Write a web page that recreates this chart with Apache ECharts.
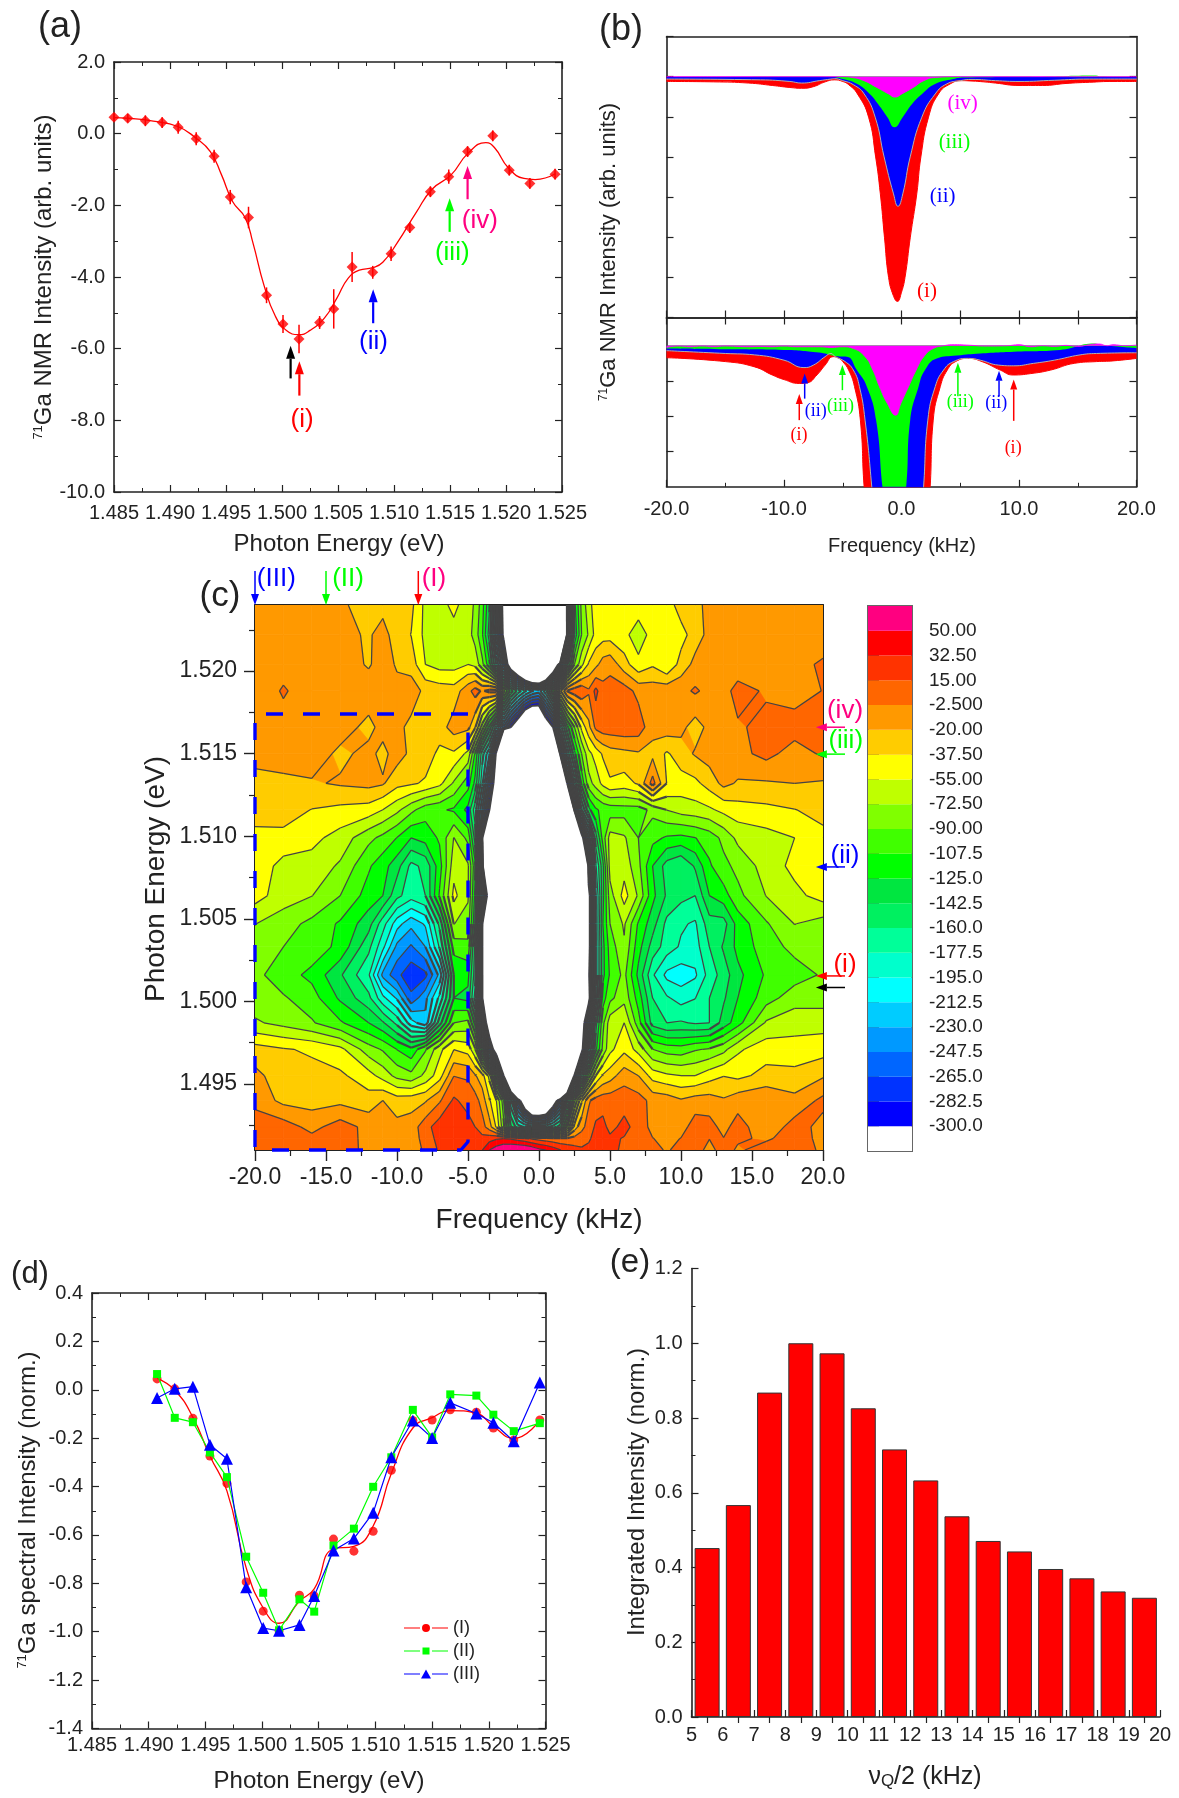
<!DOCTYPE html>
<html>
<head>
<meta charset="utf-8">
<title>71Ga NMR</title>
<script src="https://cdn.jsdelivr.net/npm/echarts@6/dist/echarts.min.js"></script>
<style>
  html, body { margin: 0; background: #fff; }
  #chart { width: 1179px; height: 1798px; }
</style>
</head>
<body>
<div id="chart"></div>
<script>
// (a) integrated NMR intensity vs photon energy
const aEnergy = [1.4850,1.48623,1.4878,1.4893,1.49073,1.49234,1.49394,1.49538,1.49701,1.49862,1.50009,1.50152,1.50336,1.50462,1.50626,1.5081,1.50974,1.51141,1.51325,1.51489,1.51657,1.51882,1.52029,1.52213,1.52438];
const aIntensity = [0.46,0.43,0.36,0.31,0.18,-0.14,-0.63,-1.77,-2.34,-4.51,-5.31,-5.73,-5.27,-4.89,-3.72,-3.87,-3.35,-2.62,-1.62,-1.2,-0.5,-0.06,-1.02,-1.39,-1.13];
const aError = [0.1,0.12,0.15,0.15,0.18,0.18,0.18,0.2,0.3,0.22,0.25,0.4,0.18,0.55,0.42,0.18,0.2,0.15,0.15,0.2,0.15,0.15,0.15,0.15,0.15];
const aFitEnergy = [1.4850,1.4862,1.4885,1.4907,1.4923,1.4936,1.4946,1.4956,1.4967,1.4974,1.4984,1.4994,1.5004,1.5015,1.5025,1.5038,1.5049,1.5059,1.5069,1.5081,1.5090,1.5103,1.5120,1.5134,1.5151,1.5166,1.5182,1.5190,1.5202,1.5216,1.5226,1.5244];
const aFitIntensity = [0.45,0.43,0.35,0.2,-0.12,-0.5,-1.15,-1.9,-2.34,-3.04,-4.24,-5.09,-5.49,-5.61,-5.49,-5.14,-4.59,-4.04,-3.81,-3.74,-3.59,-3.04,-2.19,-1.55,-1.15,-0.55,-0.25,-0.4,-0.95,-1.25,-1.28,-1.12];

// (b) spectra, upper panel
const bTopRed = [[-20,-.12],[-16,-.13],[-13,-.16],[-11,-.22],[-9.5,-.27],[-8.5,-.29],[-7.5,-.25],[-6.5,-.13],[-5.7,-.08],[-5,-.12],[-4.5,-.2],[-3.75,-.43],[-2.8,-1.01],[-2.2,-2],[-1.8,-2.92],[-1.45,-4],[-1.1,-5],[-.7,-5.45],[-.35,-5.6],[0,-5.37],[.3,-5],[.75,-4],[1.3,-2.92],[1.65,-2],[2.3,-1.01],[3.15,-.43],[4.15,-.18],[5.15,-.1],[6,-.11],[7,-.13],[8,-.16],[10,-.22],[12,-.22],[14,-.17],[16,-.14],[18,-.12],[20,-.12]];
const bTopBlue = [[-20,-.06],[-12,-.08],[-9.5,-.12],[-8.5,-.16],[-7,-.1],[-6,-.06],[-5.7,-.05],[-5,-.1],[-4.1,-.2],[-3.18,-.43],[-2.24,-1.01],[-1.48,-2],[-.68,-2.92],[-.3,-3.23],[.11,-2.92],[.74,-2],[1.73,-1.01],[2.87,-.43],[3.86,-.18],[5,-.1],[6,-.07],[8,-.1],[10,-.12],[13,-.09],[16,-.06],[20,-.06]];
const bTopGreen = [[-20,0],[-6,-.01],[-5,-.06],[-3.8,-.18],[-2.7,-.43],[-2,-.68],[-1.2,-1.01],[-.6,-1.26],[.1,-1.01],[.9,-.68],[1.75,-.43],[2.9,-.18],[4.4,-.06],[5.3,-.02],[12,0],[16.4,.03],[17,.01],[20,0]];
const bTopMagenta = [[-20,0],[-10,0],[-5,0],[-4.2,-.02],[-3.2,-.1],[-2.1,-.27],[-1.1,-.43],[-.55,-.51],[.03,-.43],[1,-.27],[1.9,-.1],[2.9,-.02],[5,0],[20,0]];

// (b) spectra, lower panel (magnified)
const bLowRed = [[-20,-.34],[-15,-.45],[-12.5,-.6],[-11,-.83],[-10,-.96],[-8.7,-1.07],[-8,-1.05],[-7.2,-.83],[-6.5,-.55],[-5.8,-.31],[-5.3,-.36],[-5,-.45],[-4.5,-.69],[-4,-1.16],[-3.5,-2.11],[-3.18,-4],[-2,-9],[-.35,-14],[1.5,-9],[2.44,-4],[2.7,-2.11],[3.3,-1.16],[3.9,-.69],[4.6,-.45],[5.7,-.36],[6.85,-.45],[8.4,-.69],[9.5,-.83],[11,-.79],[12.7,-.69],[14.7,-.5],[16.6,-.45],[18,-.43],[20,-.36]];
const bLowBlue = [[-20,-.14],[-15,-.22],[-12.5,-.26],[-10,-.41],[-8.3,-.62],[-7.5,-.55],[-6.5,-.31],[-6,-.22],[-5.65,-.31],[-4.8,-.45],[-4.1,-.69],[-3.58,-1.16],[-3.1,-2.11],[-2.53,-4],[-1.5,-8],[-.35,-11],[1,-8],[1.88,-4],[2.24,-2.11],[2.87,-1.16],[3.58,-.69],[4.43,-.45],[5.7,-.36],[6.7,-.41],[8.27,-.55],[9.55,-.57],[11.25,-.5],[13,-.41],[15.2,-.26],[16.6,-.22],[20,-.2]];
const bLowGreen = [[-20,-.08],[-15,-.1],[-10,-.12],[-7,-.19],[-6.5,-.22],[-5.5,-.3],[-4.66,-.31],[-3.8,-.69],[-2.95,-1.16],[-2.16,-2.11],[-1.62,-4],[-.6,-7],[.4,-4],[.74,-2.11],[1.45,-1.16],[2,-.69],[3,-.36],[4.7,-.28],[6.7,-.22],[9.55,-.17],[13.5,-.12],[16.4,.06],[17,.02],[20,-.07]];
const bLowMagenta = [[-20,-.05],[-19,-.01],[-18,-.03],[-17,-.01],[-16,-.03],[-15,-.01],[-14,-.02],[-13,-.03],[-12,-.02],[-11,-.03],[-10,-.01],[-9,-.03],[-8,-.03],[-7,-.03],[-6,-.05],[-5,-.03],[-4.1,-.08],[-3.1,-.31],[-2.44,-.69],[-1.88,-1.16],[-1.2,-1.64],[-.5,-1.97],[-.06,-1.64],[.6,-1.16],[1.25,-.69],[1.9,-.31],[2.7,-.08],[3.6,0],[4.5,.03],[6,.01],[7,-.01],[9,0],[10,.03],[11,-.03],[12,0],[13,-.02],[14,.01],[15,-.02],[16,.03],[16.8,.05],[17.5,0],[18,.03],[19,0],[20,.02]];

// (c) contour map: rows from low to high photon energy, one value per frequency
const cFrequency = [-20,-18,-16,-14,-12,-11,-10,-9,-8,-7,-6,-5,-4.5,-4,-3.5,-3,-2.5,-2,-1.5,-1,-.5,0,.5,1,1.5,2,2.5,3,3.5,4,4.5,5,6,7,8,9,10,11,12,13,14,16,18,20];
const cEnergy = [1.4910,1.4917,1.4924,1.4940,1.4955,1.4971,1.4987,1.5002,1.5016,1.5033,1.5047,1.5064,1.5082,1.5099,1.5116,1.5132,1.5150,1.5166,1.5188,1.5204,1.5222,1.5240];
const cValues = [
  [8,8,8,2,-5,-8,-5,-10,0,18,25,28, 30,32,50,60,68,70,72,70,65,55,50,42,33,28,22,18,20,25,26, 25,8,5,5,-5,5,5,-8,5,-5,5,5,-5],
  [8,8,2,5,-7,-9,-10,-11,4,22,22,25, 22,20,25,30,32,30,25,20,12,8,5,2,0,0,3,6,12,22,22, 18,14,6,-2,-8,-2,6,-2,-2,0,-5,5,-7],
  [8,6,-8,6,-8,-10,-15,-12,8,25,18,22, 15,5,-12,-40,-85,-140,-170,-180,-180,-180,-180,-170,-150,-90,-30,-8,5,18,20, 10,20,8,-8,-10,-10,6,4,-8,5,-15,5,-8],
  [-8,-25,-27,-25,-30,-20,-29,-27,-22,-5,18,8, 5,-10,-35,-55,-100,-190,-270,-360,-463,-470,-440,-340,-270,-170,-90,-40,-5,5,8, 8,8,5,-8,-10,-18,-12,-12,-18,-10,-5,-15,2],
  [-15,-30,-32,-34,-48,-62,-78,-85,-68,-45,-3,-5, -18,-30,-60,-140,-300,-500,-900,-900,-900,-900,-900,-900,-900,-600,-290,-170,-100,-55,-35, -28,-10,-20,-45,-52,-55,-55,-45,-38,-42,-32,-32,-22],
  [-30,-36,-40,-50,-82,-92,-108,-120,-92,-60,-38,-45, -70,-140,-250,-345,-900,-900,-900,-900,-900,-900,-900,-900,-900,-900,-900,-320,-200,-130,-85, -60,-42,-62,-90,-98,-100,-92,-88,-78,-58,-45,-48,-45],
  [-70,-78,-88,-105,-125,-140,-165,-205,-225,-150,-90,-85, -130,-230,-360,-900,-900,-900,-900,-900,-900,-900,-900,-900,-900,-900,-900,-340,-240,-150,-95, -62,-55,-100,-150,-160,-158,-162,-160,-135,-115,-70,-62,-62],
  [-82,-88,-100,-128,-155,-190,-215,-260,-235,-190,-125,-130, -185,-290,-900,-900,-900,-900,-900,-900,-900,-900,-900,-900,-900,-900,-900,-900,-320,-190,-115, -95,-78,-115,-160,-175,-185,-178,-160,-145,-125,-98,-80,-80],
  [-85,-100,-112,-140,-175,-235,-260,-278,-270,-225,-125,-120, -170,-290,-900,-900,-900,-900,-900,-900,-900,-900,-900,-900,-900,-900,-900,-900,-310,-200,-130, -105,-85,-130,-175,-200,-205,-198,-170,-152,-130,-105,-98,-88],
  [-80,-90,-98,-112,-155,-190,-235,-250,-230,-175,-100,-95, -165,-295,-900,-900,-900,-900,-900,-900,-900,-900,-900,-900,-900,-900,-900,-900,-320,-200,-130, -100,-75,-118,-150,-168,-180,-185,-160,-140,-120,-98,-85,-85],
  [-72,-82,-95,-110,-135,-170,-205,-225,-210,-155,-72,-80, -140,-290,-900,-900,-900,-900,-900,-900,-900,-900,-900,-900,-900,-900,-900,-900,-320,-200,-125, -90,-70,-110,-135,-165,-175,-180,-150,-150,-118,-92,-72,-80],
  [-48,-64,-72,-90,-115,-125,-155,-170,-160,-105,-50,-70, -130,-220,-340,-900,-900,-900,-900,-900,-900,-900,-900,-900,-900,-900,-900,-900,-320,-200,-130, -80,-48,-75,-120,-145,-155,-160,-125,-115,-95,-72,-60,-48],
  [-42,-62,-62,-75,-105,-118,-135,-165,-155,-115,-62,-70, -120,-250,-900,-900,-900,-900,-900,-900,-900,-900,-900,-900,-900,-900,-900,-900,-270,-180,-130, -65,-62,-85,-125,-150,-160,-140,-110,-95,-85,-65,-50,-48],
  [-48,-42,-50,-62,-85,-95,-108,-125,-118,-105,-72,-95, -150,-290,-900,-900,-900,-900,-900,-900,-900,-900,-900,-900,-900,-900,-900,-320,-230,-150,-100, -65,-70,-90,-102,-110,-112,-108,-100,-85,-68,-62,-55,-42],
  [-22,-30,-38,-42,-45,-55,-68,-85,-100,-105,-110,-130, -170,-230,-300,-900,-900,-900,-900,-900,-900,-900,-900,-900,-900,-900,-280,-180,-130,-110,-103, -100,-98,-98,-85,-72,-65,-62,-58,-50,-45,-42,-38,-32],
  [-22,-25,-22,-18,-15,-18,-32,-35,-40,-50,-75,-100, -130,-190,-260,-330,-900,-900,-900,-900,-900,-900,-900,-900,-900,-290,-190,-120,-80,-65,-50, -40,-45,-35,5,-38,-45,-42,-30,-15,-22,-22,-20,-22],
  [-18,-10,-10,-24,-15,-25,-12,-24,-28,-42,-40,-60, -110,-170,-210,-310,-900,-900,-900,-900,-900,-900,-900,-900,-280,-190,-130,-90,-60,-48,-35, -28,-25,-22,-25,-40,-28,-18,-12,-18,-8,3,-10,0],
  [-10,-8,-14,-12,-25,-14,-15,-25,-28,-28,-12,-15, -35,-80,-130,-185,-250,-300,-340,-400,-430,-420,-340,-300,-190,-130,-90,-50,-25,2,8, 8,10,8,-15,-10,-15,-28,-15,-12,-5,3,5,-2],
  [-12,-1,-10,-5,-10,-12,-15,-10,-25,-28,-30,-8, 5,-5,3,5,-80,-130,-165,-190,-210,-220,-180,-120,-40,0,8,12,0,20,3, 5,6,-8,-10,-8,-8,0,-8,-10,5,-5,-10,-2],
  [-12,-8,-10,-10,-22,-12,-22,-28,-55,-62,-62,-55, -60,-85,-120,-180,-250,-340,-400,-470,-515,-515,-480,-380,-270,-150,-90,-60,-35,-25,-12, -8,-30,-50,-40,-55,-30,-15,-15,-12,-15,-15,-8,0],
  [-14,-14,-12,-15,-22,-14,-28,-38,-60,-62,-62,-65, -80,-105,-150,-230,-310,-900,-900,-900,-900,-900,-900,-900,-900,-270,-140,-90,-70,-48,-45, -45,-50,-65,-48,-45,-45,-28,-15,-18,-15,-18,-12,-12],
  [-12,-12,-12,-18,-25,-25,-28,-33,-60,-62,-50,-65, -75,-100,-140,-220,-320,-900,-900,-900,-900,-900,-900,-900,-900,-260,-130,-85,-62,-45,-42, -42,-45,-45,-45,-48,-28,-25,-15,-15,-15,-18,-18,-18]
];
const cLevels = [-300,-282.5,-265,-247.5,-230,-212.5,-195,-177.5,-160,-142.5,-125,-107.5,-90,-72.5,-55,-37.5,-20,-2.5,15,32.5,50];
const cColors = ['#ffffff','#0000ff','#0033ff','#0066ff','#0099ff','#00ccff','#00ffff','#00ffcc','#00ff99','#00f060','#00e640','#00ff00','#40ff00','#80ff00','#bfff00','#ffff00','#ffcc00','#ff9900','#ff6600','#ff3300','#ff0000','#ff0080'];
const cBoxPath = [[-5,1.5174],[-20,1.5174],[-20,1.4910],[-5.5,1.4910],[-5,1.4915],[-5,1.5174]];

// (d) spectral intensity at the three frequencies
const dEnergy = [1.49074,1.4923,1.4939,1.4954,1.4969,1.4986,1.5001,1.5015,1.5033,1.5046,1.5063,1.5081,1.5098,1.5114,1.5133,1.5150,1.5166,1.5189,1.5204,1.5222,1.5245];
const dSeriesI = [.045,.004,-.118,-.274,-.387,-.794,-.915,-.996,-.849,-.852,-.617,-.667,-.585,-.333,-.127,-.125,-.083,-.093,-.158,-.208,-.125];
const dSeriesII = [.065,-.116,-.134,-.259,-.361,-.69,-.839,-.994,-.866,-.917,-.644,-.574,-.401,-.279,-.083,-.197,-.019,-.024,-.103,-.171,-.138];
const dSeriesIII = [-.034,.004,.013,-.227,-.285,-.816,-.985,-.996,-.972,-.852,-.664,-.615,-.508,-.279,-.127,-.199,-.054,-.098,-.136,-.213,.03];
const dFitI = [.047,-.002,-.114,-.274,-.418,-.736,-.902,-.965,-.874,-.823,-.657,-.647,-.563,-.346,-.158,-.115,-.086,-.097,-.151,-.201,-.125];

// (e) integrated intensity histogram
const eBinCenter = [5.5,6.5,7.5,8.5,9.5,10.5,11.5,12.5,13.5,14.5,15.5,16.5,17.5,18.5,19.5];
const eBinValue = [.452,.567,.868,1,.973,.826,.716,.633,.537,.471,.443,.396,.371,.336,.319];

// annotations: arrows [x0,y0,x1,y1,colour], labels [x,y,text,colour]
const PINK = '#ff0080', GREEN = '#00ff00', BLUE = '#0000ff', RED = '#ff0000', BLACK = '#000000', MAGENTA = '#ff00ff';
const aArrows = [[1.50077,-6.83,1.50077,-5.92,BLACK],[1.50155,-7.31,1.50155,-6.35,RED],[1.50814,-5.29,1.50814,-4.34,BLUE],[1.51497,-2.74,1.51497,-1.8,GREEN],[1.51657,-1.83,1.51657,-.9,PINK]];
const aLabels = [[1.5018,-7.98,'(i)',RED],[1.50817,-5.82,'(ii)',BLUE],[1.5152,-3.32,'(iii)',GREEN],[1.51767,-2.44,'(iv)',PINK]];
const bTopLabels = [[5.2,-.67,'(iv)',MAGENTA],[4.5,-1.63,'(iii)',GREEN],[3.5,-2.98,'(ii)',BLUE],[2.17,-5.34,'(i)',RED]];
const bLowArrows = [[-8.7,-2.11,-8.7,-1.37,RED],[-8.24,-1.5,-8.24,-.79,BLUE],[-5.03,-1.26,-5.03,-.55,GREEN],[4.8,-1.43,4.8,-.48,GREEN],[8.3,-1.43,8.3,-.71,BLUE],[9.55,-2.13,9.55,-.96,RED]];
const bLowLabels = [[-8.72,-2.55,'(i)',RED],[-7.3,-1.85,'(ii)',BLUE],[-5.2,-1.73,'(iii)',GREEN],[5,-1.59,'(iii)',GREEN],[8.07,-1.62,'(ii)',BLUE],[9.5,-2.91,'(i)',RED]];
const cArrows = [[-20,1.52606,-20,1.524,BLUE],[-15,1.52606,-15,1.524,GREEN],[-8.5,1.52606,-8.5,1.524,RED],[21.55,1.5166,19.5,1.5166,PINK],[21.55,1.51497,19.5,1.51497,GREEN],[21.55,1.50814,19.5,1.50814,BLUE],[21.55,1.50154,19.5,1.50154,RED],[21.55,1.50084,19.5,1.50084,BLACK]];
const cLabels = [[-18.5,1.5256,'(III)',BLUE],[-13.45,1.5256,'(II)',GREEN],[-7.4,1.5256,'(I)',PINK],[21.55,1.5176,'(iv)',PINK],[21.6,1.5158,'(iii)',GREEN],[21.55,1.5088,'(ii)',BLUE],[21.55,1.5022,'(i)',RED]];

const SANS = '"Liberation Sans", Arial, sans-serif';
const SERIF = '"Liberation Serif", "Times New Roman", serif';
const INK = '#222222';

const chart = echarts.init(document.getElementById('chart'), null, { renderer: 'canvas' });

const grids = [
  { left: 114, top: 62, width: 448, height: 430 },
  { left: 666.5, top: 36.5, width: 470, height: 281 },
  { left: 666.5, top: 317.5, width: 470, height: 169.3 },
  { left: 255, top: 605, width: 568, height: 545 },
  { left: 868, top: 606, width: 44, height: 545, show: true, borderColor: '#666', borderWidth: 2, backgroundColor: 'transparent' },
  { left: 92, top: 1293, width: 453.5, height: 435.5 },
  { left: 691.5, top: 1268.5, width: 468.5, height: 448.5 }
];

function axis(gridIndex, position, min, max, opts) {
  opts = opts || {};
  return Object.assign({
    type: 'value', gridIndex, position, min, max,
    axisLine: { show: true, onZero: false, lineStyle: { color: INK, width: 1.6 } },
    axisTick: { show: opts.ticks !== false, inside: true, length: 7, lineStyle: { color: INK, width: 1.2 } },
    minorTick: { show: opts.minor !== false && opts.ticks !== false, splitNumber: 2, length: 4, lineStyle: { color: INK, width: 1 } },
    splitLine: { show: false },
    axisLabel: { show: false },
    animation: false
  }, opts.raw || {});
}
function label(fontSize, margin, digits) {
  return { show: true, color: INK, fontFamily: SANS, fontSize, margin, hideOverlap: false, formatter: v => Number(v).toFixed(digits) };
}

const xAxes = [
  // 0,1 panel a
  axis(0, 'bottom', 1.485, 1.525, { raw: { interval: .005, axisLabel: label(20, 11, 3) } }),
  axis(0, 'top', 1.485, 1.525, { raw: { interval: .005 } }),
  // 2 b top, 3 b top frame
  axis(1, 'bottom', -20, 20, { minor: false, raw: { interval: 5 } }),
  axis(1, 'top', -20, 20, { ticks: false, raw: { interval: 5 } }),
  // 4 b low, 5 b low top side
  axis(2, 'bottom', -20, 20, { raw: { interval: 10, axisLabel: label(20, 13, 1) } }),
  axis(2, 'top', -20, 20, { minor: false, raw: { interval: 5 } }),
  // 6 panel c, 7 frame
  axis(3, 'bottom', -20, 20, { raw: { interval: 5, axisLabel: label(23, 16, 1), axisTick: { inside: false, length: 11, lineStyle: { color: INK, width: 1.4 } }, minorTick: { show: true, splitNumber: 2, length: 6, lineStyle: { color: INK, width: 1.2 } }, axisLine: { onZero: false, lineStyle: { color: INK, width: 2 } } } }),
  axis(3, 'top', -20, 20, { ticks: false, raw: { interval: 5, axisLine: { onZero: false, lineStyle: { color: INK, width: 2 } } } }),
  // 8 colour bar
  { type: 'value', gridIndex: 4, min: 0, max: 1, show: false },
  // 9,10 panel d
  axis(5, 'bottom', 1.485, 1.525, { raw: { interval: .005, axisLabel: label(20, 7, 3) } }),
  axis(5, 'top', 1.485, 1.525, { raw: { interval: .005 } }),
  // 11 panel e, 12 half-way ticks under the axis
  axis(6, 'bottom', 5, 20, { minor: false, raw: { interval: 1, axisLabel: Object.assign(label(20, 8, 0), {}) } }),
  axis(6, 'bottom', 5, 20, { minor: false, raw: { axisLine: { show: false, onZero: false }, axisTick: { show: true, inside: false, length: 6, customValues: eBinCenter, lineStyle: { color: INK, width: 1.2 } } } })
];
const cMajorE = [1.495, 1.5, 1.505, 1.51, 1.515, 1.52];
const cMinorE = [1.4925, 1.4975, 1.5025, 1.5075, 1.5125, 1.5175, 1.5225];
const yAxes = [
  // 0,1 panel a
  axis(0, 'left', -10, 2, { raw: { interval: 2, axisLabel: label(20, 9, 1) } }),
  axis(0, 'right', -10, 2, { raw: { interval: 2 } }),
  // 2,3 b top
  axis(1, 'left', -6, 1, { minor: false, raw: { interval: 1 } }),
  axis(1, 'right', -6, 1, { minor: false, raw: { interval: 1 } }),
  // 4,5 b low
  axis(2, 'left', -4, .8, { minor: false, raw: { axisTick: { show: true, inside: true, length: 7, customValues: [-3, -2, -1], lineStyle: { color: INK, width: 1.2 } } } }),
  axis(2, 'right', -4, .8, { minor: false, raw: { axisTick: { show: true, inside: true, length: 7, customValues: [-3, -2, -1], lineStyle: { color: INK, width: 1.2 } } } }),
  // 6 panel c major, 7 minor, 8 frame
  axis(3, 'left', 1.491, 1.524, { minor: false, raw: { axisTick: { show: true, inside: false, length: 11, customValues: cMajorE, lineStyle: { color: INK, width: 1.4 } }, axisLabel: Object.assign(label(23, 18, 3), { customValues: cMajorE }), axisLine: { onZero: false, lineStyle: { color: INK, width: 2 } } } }),
  axis(3, 'left', 1.491, 1.524, { minor: false, raw: { axisLine: { show: false, onZero: false }, axisTick: { show: true, inside: false, length: 6, customValues: cMinorE, lineStyle: { color: INK, width: 1.2 } } } }),
  axis(3, 'right', 1.491, 1.524, { ticks: false, raw: { axisLine: { onZero: false, lineStyle: { color: INK, width: 2 } } } }),
  // 9 colour bar
  { type: 'value', gridIndex: 4, position: 'right', min: -317.5, max: 67.5,
    axisLine: { show: false }, splitLine: { show: false },
    axisTick: { show: true, length: 11, customValues: cLevels, lineStyle: { color: '#555', width: 1.2 } },
    axisLabel: { show: true, customValues: cLevels, color: INK, fontFamily: SANS, fontSize: 19, margin: 17, formatter: v => Number(v).toPrecision(4) } },
  // 10,11 panel d
  axis(5, 'left', -1.4, .4, { raw: { interval: .2, axisLabel: label(20, 9, 1) } }),
  axis(5, 'right', -1.4, .4, { raw: { interval: .2 } }),
  // 12 panel e
  axis(6, 'left', 0, 1.2, { raw: { interval: .2, axisLabel: label(20, 9, 1) } })
];

function arrowItems(api, d, headLen, headWide, shaft) {
  const p0 = api.coord([d[0], d[1]]), p1 = api.coord([d[2], d[3]]);
  const len = Math.hypot(p1[0] - p0[0], p1[1] - p0[1]);
  const ux = (p1[0] - p0[0]) / len, uy = (p1[1] - p0[1]) / len;
  const bx = p1[0] - ux * headLen, by = p1[1] - uy * headLen;
  return [
    { type: 'line', shape: { x1: p0[0], y1: p0[1], x2: bx, y2: by }, style: { stroke: d[4], lineWidth: shaft } },
    { type: 'polygon', shape: { points: [p1, [bx - uy * headWide / 2, by + ux * headWide / 2], [bx + uy * headWide / 2, by - ux * headWide / 2]] }, style: { fill: d[4] } }
  ];
}
function arrowSeries(xAxisIndex, yAxisIndex, list, headLen, headWide, shaft) {
  return {
    type: 'custom', xAxisIndex, yAxisIndex, clip: false, silent: true, z: 8,
    data: list.map(d => [d[0], d[1]]),
    renderItem: (params, api) => ({ type: 'group', children: arrowItems(api, list[params.dataIndex], headLen, headWide, shaft) })
  };
}
function labelSeries(xAxisIndex, yAxisIndex, list, font) {
  return {
    type: 'custom', xAxisIndex, yAxisIndex, clip: false, silent: true, z: 9,
    data: list.map(d => [d[0], d[1]]),
    renderItem: (params, api) => {
      const d = list[params.dataIndex], p = api.coord([d[0], d[1]]);
      return { type: 'text', style: { x: p[0], y: p[1], text: d[2], fill: d[3], font, textAlign: 'center', textVerticalAlign: 'middle' } };
    }
  };
}
function spectrum(xAxisIndex, yAxisIndex, data, color, stroke, width) {
  return {
    type: 'line', xAxisIndex, yAxisIndex, data, symbol: 'none', smooth: .5,
    lineStyle: { color: stroke || color, width: width === undefined ? 1 : width }, itemStyle: { color },
    areaStyle: { color, opacity: 1 }
  };
}

// clip a convex cell [x,y,v] to one side of a contour level
function clipCell(pts, level, above) {
  const out = [];
  for (let i = 0; i < pts.length; i++) {
    const a = pts[i], b = pts[(i + 1) % pts.length];
    const aIn = above ? a[2] >= level : a[2] <= level;
    const bIn = above ? b[2] >= level : b[2] <= level;
    if (aIn) out.push(a);
    if (aIn !== bIn) {
      const t = (level - a[2]) / (b[2] - a[2]);
      out.push([a[0] + (b[0] - a[0]) * t, a[1] + (b[1] - a[1]) * t, level]);
    }
  }
  return out;
}
function cellCorners(api, i, j) {
  return [[i, j], [i + 1, j], [i + 1, j + 1], [i, j + 1]].map(c => {
    const p = api.coord([cFrequency[c[0]], cEnergy[c[1]]]);
    return [p[0], p[1], cValues[c[1]][c[0]]];
  });
}
const cCells = [];
cEnergy.forEach((e, j) => {
  if (j === cEnergy.length - 1) return;
  cFrequency.forEach((f, i) => {
    if (i < cFrequency.length - 1) cCells.push([f, e, i, j]);
  });
});
function renderFill(params, api) {
  const corners = cellCorners(api, api.value(2), api.value(3));
  const children = [];
  for (let b = 1; b < cColors.length; b++) {
    let poly = clipCell(corners, cLevels[b - 1], true);
    if (b < cLevels.length && poly.length) poly = clipCell(poly, cLevels[b], false);
    if (poly.length > 2) {
      children.push({ type: 'polygon', shape: { points: poly.map(p => [p[0], p[1]]) }, style: { fill: cColors[b], stroke: cColors[b], lineWidth: .7 } });
    }
  }
  return { type: 'group', children };
}
function renderLines(params, api) {
  const corners = cellCorners(api, api.value(2), api.value(3));
  const vals = corners.map(c => c[2]);
  // where the lines crowd together next to the hole they merge into a dark band
  const crowded = Math.max.apply(null, vals) - Math.min.apply(null, vals) > 80;
  const children = [];
  cLevels.forEach(level => {
    const hits = [];
    for (let k = 0; k < 4; k++) {
      const a = corners[k], b = corners[(k + 1) % 4];
      if ((a[2] < level) !== (b[2] < level)) {
        const t = (level - a[2]) / (b[2] - a[2]);
        hits.push([a[0] + (b[0] - a[0]) * t, a[1] + (b[1] - a[1]) * t]);
      }
    }
    for (let h = 0; h + 1 < hits.length; h += 2) {
      children.push({ type: 'line', shape: { x1: hits[h][0], y1: hits[h][1], x2: hits[h + 1][0], y2: hits[h + 1][1] }, style: { stroke: '#444444', lineWidth: crowded ? 2.2 : 1.25 } });
    }
  });
  return { type: 'group', children };
}

const colorBands = cColors.map((c, b) => [b, b === 0 ? -317.5 : cLevels[b - 1], b === cLevels.length ? 67.5 : cLevels[b]]);

const series = [
  // panel a
  { type: 'line', xAxisIndex: 0, yAxisIndex: 0, data: aFitEnergy.map((x, i) => [x, aFitIntensity[i]]), symbol: 'none', smooth: .5, lineStyle: { color: RED, width: 1.3 } },
  { type: 'custom', xAxisIndex: 0, yAxisIndex: 0, silent: true, data: aEnergy.map((x, i) => [x, aIntensity[i] - aError[i], aIntensity[i] + aError[i]]),
    renderItem: (params, api) => {
      const lo = api.coord([api.value(0), api.value(1)]), hi = api.coord([api.value(0), api.value(2)]);
      return { type: 'line', shape: { x1: lo[0], y1: lo[1], x2: hi[0], y2: hi[1] }, style: { stroke: RED, lineWidth: 1.5 } };
    } },
  { type: 'scatter', xAxisIndex: 0, yAxisIndex: 0, data: aEnergy.map((x, i) => [x, aIntensity[i]]), symbol: 'diamond', symbolSize: 11, itemStyle: { color: RED } },
  arrowSeries(0, 0, aArrows, 13, 9, 2.2),
  labelSeries(0, 0, aLabels, '26px ' + SANS),
  // panel b
  spectrum(2, 2, bTopRed, RED), spectrum(2, 2, bTopBlue, BLUE, '#b0b0b0'), spectrum(2, 2, bTopGreen, GREEN, null, 0), spectrum(2, 2, bTopMagenta, MAGENTA, null, .8),
  labelSeries(2, 2, bTopLabels, '21px ' + SERIF),
  spectrum(4, 4, bLowRed, RED), spectrum(4, 4, bLowBlue, BLUE, '#b0b0b0'), spectrum(4, 4, bLowGreen, GREEN, null, 0), spectrum(4, 4, bLowMagenta, MAGENTA, null, .8),
  arrowSeries(4, 4, bLowArrows, 10, 7, 1.5),
  labelSeries(4, 4, bLowLabels, '18px ' + SERIF),
  // panel c
  { type: 'custom', xAxisIndex: 6, yAxisIndex: 6, silent: true, clip: true, z: 2, data: cCells, renderItem: renderFill },
  { type: 'custom', xAxisIndex: 6, yAxisIndex: 6, silent: true, clip: true, z: 3, data: cCells, renderItem: renderLines },
  { type: 'line', xAxisIndex: 6, yAxisIndex: 6, data: cBoxPath, symbol: 'none', clip: false, z: 5, lineStyle: { color: BLUE, width: 3.4, type: [17, 20] } },
  arrowSeries(6, 6, cArrows, 11, 8, 1.5),
  labelSeries(6, 6, cLabels, '26px ' + SANS),
  // colour bar
  { type: 'custom', xAxisIndex: 8, yAxisIndex: 9, silent: true, data: colorBands,
    renderItem: (params, api) => {
      const lo = api.coord([0, api.value(1)]), hi = api.coord([1, api.value(2)]);
      return { type: 'rect', shape: { x: lo[0], y: hi[1], width: hi[0] - lo[0], height: lo[1] - hi[1] }, style: { fill: cColors[api.value(0)] } };
    } },
  // panel d
  { name: '(I)', type: 'line', xAxisIndex: 9, yAxisIndex: 10, data: dEnergy.map((x, i) => [x, dFitI[i]]), symbol: 'none', smooth: .5, lineStyle: { color: RED, width: 1.3 }, itemStyle: { color: RED } },
  { type: 'scatter', xAxisIndex: 9, yAxisIndex: 10, data: dEnergy.map((x, i) => [x, dSeriesI[i]]), symbol: 'circle', symbolSize: 9, itemStyle: { color: RED } },
  { name: '(II)', type: 'line', xAxisIndex: 9, yAxisIndex: 10, data: dEnergy.map((x, i) => [x, dSeriesII[i]]), symbol: 'rect', symbolSize: 8, lineStyle: { color: GREEN, width: 1.2 }, itemStyle: { color: GREEN } },
  { name: '(III)', type: 'line', xAxisIndex: 9, yAxisIndex: 10, data: dEnergy.map((x, i) => [x, dSeriesIII[i]]), symbol: 'triangle', symbolSize: 12, lineStyle: { color: BLUE, width: 1.2 }, itemStyle: { color: BLUE } },
  // panel e
  { type: 'bar', xAxisIndex: 11, yAxisIndex: 12, data: eBinCenter.map((x, i) => [x, eBinValue[i]]), barWidth: 25, itemStyle: { color: RED, borderColor: '#333', borderWidth: 1 } }
];

function tex(x, y, text, size, rotated, rich) {
  return {
    type: 'text', x, y, rotation: rotated ? Math.PI / 2 : 0, silent: true,
    style: { text, fontFamily: SANS, fontSize: size, fill: INK, align: 'center', verticalAlign: 'middle', rich: rich || undefined }
  };
}
const supRich = size => ({
  sup: { fontFamily: SANS, fontSize: Math.round(size * .55), fill: INK, verticalAlign: 'top', padding: [0, 0, Math.round(size * .4), 0] },
  base: { fontFamily: SANS, fontSize: size, fill: INK }
});
const graphics = [
  tex(60, 27, '(a)', 36), tex(621, 30, '(b)', 36), tex(220, 596, '(c)', 35), tex(30, 1274, '(d)', 31), tex(630, 1263, '(e)', 33),
  tex(44, 277, '{sup|71}{base|Ga NMR Intensity (arb. units)}', 24, true, supRich(24)),
  tex(339, 544, 'Photon Energy (eV)', 24),
  tex(609, 252, '{sup|71}{base|Ga NMR Intensity (arb. units)}', 22, true, supRich(22)),
  tex(902, 546, 'Frequency (kHz)', 20),
  tex(156, 879, 'Photon Energy (eV)', 28, true),
  tex(539, 1220, 'Frequency (kHz)', 28),
  tex(28, 1510, '{sup|71}{base|Ga spectral Intensity (norm.)}', 24, true, supRich(24)),
  tex(319, 1781, 'Photon Energy (eV)', 24),
  tex(637, 1492, 'Integrated Intensity (norm.)', 24, true),
  tex(925, 1777, '{base|\u03BD}{sub|Q}{base|/2 (kHz)}', 25, false, {
    base: { fontFamily: SANS, fontSize: 25, fill: INK },
    sub: { fontFamily: SANS, fontSize: 17, fill: INK, verticalAlign: 'bottom', padding: [8, 0, 0, 0] }
  })
];

chart.setOption({
  animation: false,
  backgroundColor: '#ffffff',
  textStyle: { fontFamily: SANS },
  grid: grids,
  xAxis: xAxes,
  yAxis: yAxes,
  legend: {
    orient: 'vertical', left: 399, top: 1614, itemWidth: 44, itemHeight: 11, itemGap: 5,
    textStyle: { fontFamily: SANS, fontSize: 18, color: INK },
    data: [
      { name: '(I)', icon: 'path://M0 5h16v1H0zM28 5h16v1H28zM22 1.5a4 4 0 1 1 0 8a4 4 0 1 1 0-8z' },
      { name: '(II)', icon: 'path://M0 5h16v1H0zM28 5h16v1H28zM18.5 2h7v7h-7z' },
      { name: '(III)', icon: 'path://M0 5h16v1H0zM28 5h16v1H28zM22 1l5 9H17z' }
    ]
  },
  graphic: graphics,
  series
});
</script>
</body>
</html>
